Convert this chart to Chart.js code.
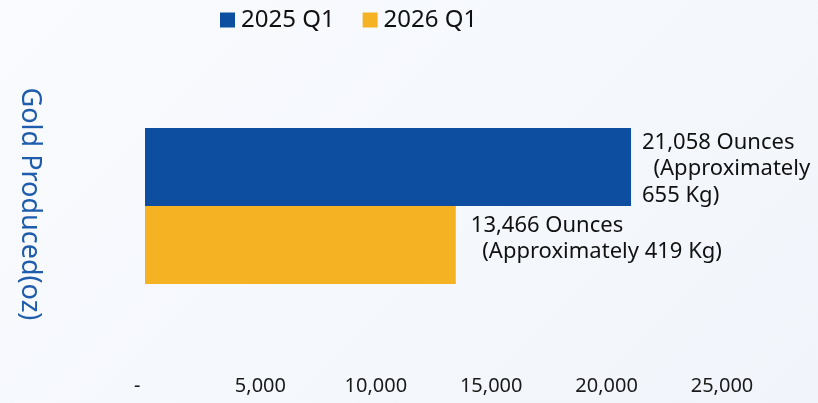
<!DOCTYPE html>
<html>
<head>
<meta charset="utf-8">
<script src="https://cdn.jsdelivr.net/npm/chart.js@4/dist/chart.umd.min.js"></script>
<style>
  html, body { margin: 0; padding: 0; }
  body {
    width: 818px; height: 403px; overflow: hidden;
    background: linear-gradient(135deg, #f9fbfe 0%, #f1f5fb 100%);
  }
  #wrap { position: relative; width: 818px; height: 403px; }
</style>
</head>
<body>
<div id="wrap"><canvas id="chart" width="818" height="403"></canvas></div>
<script>
const categories = ["Gold Produced"];
const seriesNames = ["2025 Q1", "2026 Q1"];
const values2025 = [21058];
const values2026 = [13466];
const labelLines2025 = ["21,058 Ounces", "  (Approximately", "655 Kg)"];
const labelLines2026 = ["13,466 Ounces", "  (Approximately 419 Kg)"];
const tickValues = [0, 5000, 10000, 15000, 20000, 25000];
const axisTitle = "Gold Produced(oz)";

const FONT = "'Noto Sans', 'Open Sans', sans-serif";

// legend drawn by hand so it can sit left of centre like the original
const topLegend = {
  id: "topLegend",
  afterDraw(chart) {
    const ctx = chart.ctx;
    let x = 220;
    const y = 20;
    ctx.save();
    ctx.font = "24px " + FONT;
    ctx.textBaseline = "middle";
    ctx.textAlign = "left";
    chart.data.datasets.forEach((ds) => {
      ctx.fillStyle = ds.backgroundColor;
      ctx.fillRect(x, y - 7.5, 15, 15);
      ctx.fillStyle = "#111111";
      ctx.fillText(ds.label, x + 21, y);
      x += 21 + ctx.measureText(ds.label).width + 28;
    });
    ctx.restore();
  },
};

const barLabels = {
  id: "barLabels",
  afterDatasetsDraw(chart) {
    const ctx = chart.ctx;
    const allLines = [labelLines2025, labelLines2026];
    ctx.save();
    ctx.font = "22px " + FONT;
    ctx.fillStyle = "#111111";
    ctx.textAlign = "left";
    ctx.textBaseline = "middle";
    chart.data.datasets.forEach((ds, i) => {
      const meta = chart.getDatasetMeta(i);
      meta.data.forEach((bar) => {
        const lines = allLines[i];
        const lh = 26.5;
        const startY = bar.y + 2 - ((lines.length - 1) * lh) / 2 - (i === 1 ? 8 : 0);
        lines.forEach((line, k) => {
          ctx.fillText(line, bar.x + (i === 1 ? 15 : 11), startY + k * lh);
        });
      });
    });
    ctx.restore();
  },
};

const sideTitle = {
  id: "sideTitle",
  afterDraw(chart) {
    const ctx = chart.ctx;
    ctx.save();
    ctx.translate(30, 204);
    ctx.rotate(Math.PI / 2);
    ctx.font = "27px " + FONT;
    ctx.fillStyle = "#1f5cab";
    ctx.textAlign = "center";
    ctx.textBaseline = "middle";
    ctx.fillText(axisTitle, 0, 0);
    ctx.restore();
  },
};

new Chart(document.getElementById("chart").getContext("2d"), {
  type: "bar",
  data: {
    labels: categories,
    datasets: [
      { label: seriesNames[0], data: values2025, backgroundColor: "#0d4ea1" },
      { label: seriesNames[1], data: values2026, backgroundColor: "#f5b324" },
    ],
  },
  options: {
    indexAxis: "y",
    responsive: false,
    animation: false,
    datasets: { bar: { categoryPercentage: 0.534, barPercentage: 1 } },
    layout: { padding: { left: 145, right: 96, top: 60, bottom: 5 } },
    scales: {
      x: {
        min: 0,
        max: 25000,
        afterBuildTicks(axis) {
          axis.ticks = tickValues.map((v) => ({ value: v }));
        },
        afterFit(axis) {
          axis.height = 46;
        },
        grid: { display: false, drawTicks: false },
        border: { display: false },
        ticks: {
          padding: 22,
          color: "#1a1a1a",
          font: { family: FONT, size: 20 },
          maxRotation: 0,
          callback: (v) => (v === 0 ? "-   " : v.toLocaleString("en-US")),
        },
      },
      y: {
        display: false,
      },
    },
    plugins: {
      legend: { display: false },
      tooltip: { enabled: false },
    },
  },
  plugins: [barLabels, sideTitle, topLegend],
});
</script>
</body>
</html>
